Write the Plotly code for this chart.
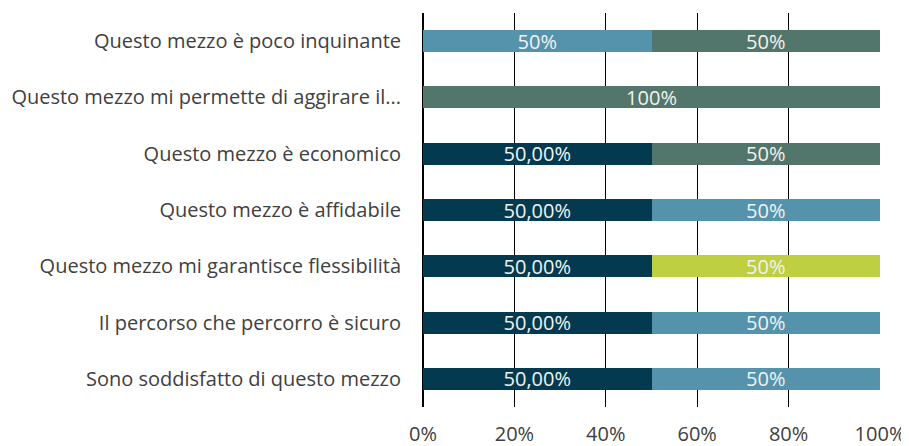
import plotly.graph_objects as go

categories = [
    "Sono soddisfatto di questo mezzo",
    "Il percorso che percorro è sicuro",
    "Questo mezzo mi garantisce flessibilità",
    "Questo mezzo è affidabile",
    "Questo mezzo è economico",
    "Questo mezzo mi permette di aggirare il...",
    "Questo mezzo è poco inquinante",
]

navy_vals = [0.5, 0.5, 0.5, 0.5, 0.5, None, None]
blue_vals = [0.5, 0.5, None, 0.5, None, None, 0.5]
lime_vals = [None, None, 0.5, None, None, None, None]
green_vals = [None, None, None, None, 0.5, 1.0, 0.5]

series = [
    ("Serie 1", navy_vals, "#033a4f", True),
    ("Serie 2", blue_vals, "#5592ab", False),
    ("Serie 3", lime_vals, "#bed042", False),
    ("Serie 4", green_vals, "#52756c", False),
]

FONT = "Open Sans"
FS = 20

def fmt(v, decimals):
    if v is None:
        return ""
    if decimals:
        return f"{v*100:.2f}%".replace(".", ",")
    return f"{v*100:.0f}%"

fig = go.Figure()
for name, vals, color, dec in series:
    fig.add_trace(go.Bar(
        y=categories, x=vals, name=name, orientation="h",
        marker=dict(color=color, line=dict(width=0)),
        text=[fmt(v, dec) for v in vals],
        textposition="inside", insidetextanchor="middle",
        constraintext="none",
        textfont=dict(color="#f2f2f2", size=FS, family=FONT),
        cliponaxis=False,
    ))

# the page body adds an 8px offset, so the figure is 8px smaller and margins shifted
fig.update_layout(
    barmode="stack",
    width=901, height=438,
    margin=dict(l=415, r=29, t=5, b=39),
    paper_bgcolor="white", plot_bgcolor="white",
    showlegend=False,
    bargap=0.61,
    font=dict(family=FONT, size=FS, color="#404040"),
)
fig.update_xaxes(
    range=[0, 1], tickvals=[0, 0.2, 0.4, 0.6, 0.8, 1.0],
    tickformat=".0%", showgrid=True, gridcolor="#000000", gridwidth=1,
    zeroline=True, zerolinecolor="#000000", zerolinewidth=2,
    showline=False, ticks="", ticklabelstandoff=13, automargin=False,
    tickfont=dict(size=FS, family=FONT, color="#404040"),
    fixedrange=True,
)
fig.update_yaxes(
    showgrid=False, showline=False, ticks="", ticklabelstandoff=21,
    automargin=False,
    tickfont=dict(size=FS, family=FONT, color="#404040"),
)

fig.write_html("out.html")
